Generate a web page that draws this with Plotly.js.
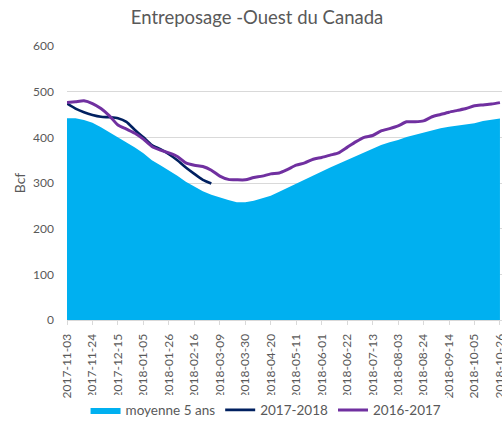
<!DOCTYPE html>
<html>
<head>
<meta charset="utf-8">
<script src="https://cdn.plot.ly/plotly-3.0.1.min.js"></script>
<style>html,body{margin:0;padding:0;background:#fff;}#chart{width:502px;height:425px;}</style>
</head>
<body>
<div id="chart"></div>
<script>
var dates = ["2017-11-03","2017-11-10","2017-11-17","2017-11-24","2017-12-01","2017-12-08","2017-12-15","2017-12-22","2017-12-29",
"2018-01-05","2018-01-12","2018-01-19","2018-01-26","2018-02-02","2018-02-09","2018-02-16","2018-02-23",
"2018-03-02","2018-03-09","2018-03-16","2018-03-23","2018-03-30","2018-04-06","2018-04-13","2018-04-20","2018-04-27",
"2018-05-04","2018-05-11","2018-05-18","2018-05-25","2018-06-01","2018-06-08","2018-06-15","2018-06-22","2018-06-29",
"2018-07-06","2018-07-13","2018-07-20","2018-07-27","2018-08-03","2018-08-10","2018-08-17","2018-08-24","2018-08-31",
"2018-09-07","2018-09-14","2018-09-21","2018-09-28","2018-10-05","2018-10-12","2018-10-19","2018-10-26"];

var tickDates = ["2017-11-03","2017-11-24","2017-12-15","2018-01-05","2018-01-26","2018-02-16","2018-03-09","2018-03-30",
"2018-04-20","2018-05-11","2018-06-01","2018-06-22","2018-07-13","2018-08-03","2018-08-24","2018-09-14","2018-10-05","2018-10-26"];

var avg5 = [442,442,438,432,422,411,400,390,378,365,350,339,328,316,303,292,282,274,268,263,258,258,
261,266,272,281,290,298,308,316,325,334,342,350,358,366,374,383,389,394,401,406,411,416,420,423,426,429,431,436,439,441];

var s2017_2018 = [474,463,455,449,445,444,442,434,416,400,383,374,363,350,334,320,307,299];

var s2016_2017 = [476,478,480,474,463,447,427,418,409,396,380,372,366,358,344,339,336,328,315,308,307,307,
312,315,320,322,330,339,344,352,356,361,366,378,390,400,404,414,419,425,434,434,436,445,450,455,459,463,469,471,473,476];

var seriesNames = ["moyenne 5 ans","2017-2018","2016-2017"];

var traces = [
  {x: dates, y: avg5, name: seriesNames[0], type: "scatter", mode: "lines",
   fill: "tozeroy", fillcolor: "#00B0F0", line: {color: "#00B0F0", width: 0}},
  {x: dates.slice(0, s2017_2018.length), y: s2017_2018, name: seriesNames[1], type: "scatter", mode: "lines",
   line: {color: "#002060", width: 2.6, shape: "spline", smoothing: 0.6}},
  {x: dates, y: s2016_2017, name: seriesNames[2], type: "scatter", mode: "lines",
   line: {color: "#7030A0", width: 3, shape: "spline", smoothing: 0.6}}
];

var font = "Lato, 'Open Sans', sans-serif";
var layout = {
  width: 502, height: 425,
  margin: {l: 67, r: 0, t: 46, b: 105},
  paper_bgcolor: "#fff", plot_bgcolor: "#fff",
  showlegend: true,
  title: {text: "Entreposage -Ouest du Canada", x: 0.512, xref: "container", xanchor: "center",
          y: 0.958, yref: "container", yanchor: "middle",
          font: {family: font, size: 18.5, color: "#595959"}},
  xaxis: {type: "category", range: [0, 51.24], tickmode: "array", tickvals: tickDates, ticktext: tickDates,
          tickangle: -90, tickfont: {family: font, size: 12, color: "#595959"}, ticklabelstandoff: 4,
          showgrid: false, showline: true, linecolor: "#d9d9d9", linewidth: 1,
          ticks: "outside", ticklen: 4, tickcolor: "#d9d9d9", zeroline: false, fixedrange: true},
  yaxis: {range: [0, 600], dtick: 100, tickfont: {family: font, size: 12, color: "#595959"}, ticklabelstandoff: 12,
          showgrid: true, gridcolor: "#d9d9d9", gridwidth: 1, zeroline: false, showline: false,
          ticks: "", ticklen: 0, automargin: false,
          title: {text: "Bcf", font: {family: font, size: 14, color: "#595959"}, standoff: 4}},
  legend: {orientation: "h", x: 0.53, xref: "container", xanchor: "center", y: 0.035, yref: "container", yanchor: "middle",
           font: {family: font, size: 13.5, color: "#595959"}, traceorder: "normal", itemwidth: 30}
};

Plotly.newPlot("chart", traces, layout, {displayModeBar: false, staticPlot: true});
</script>
</body>
</html>
